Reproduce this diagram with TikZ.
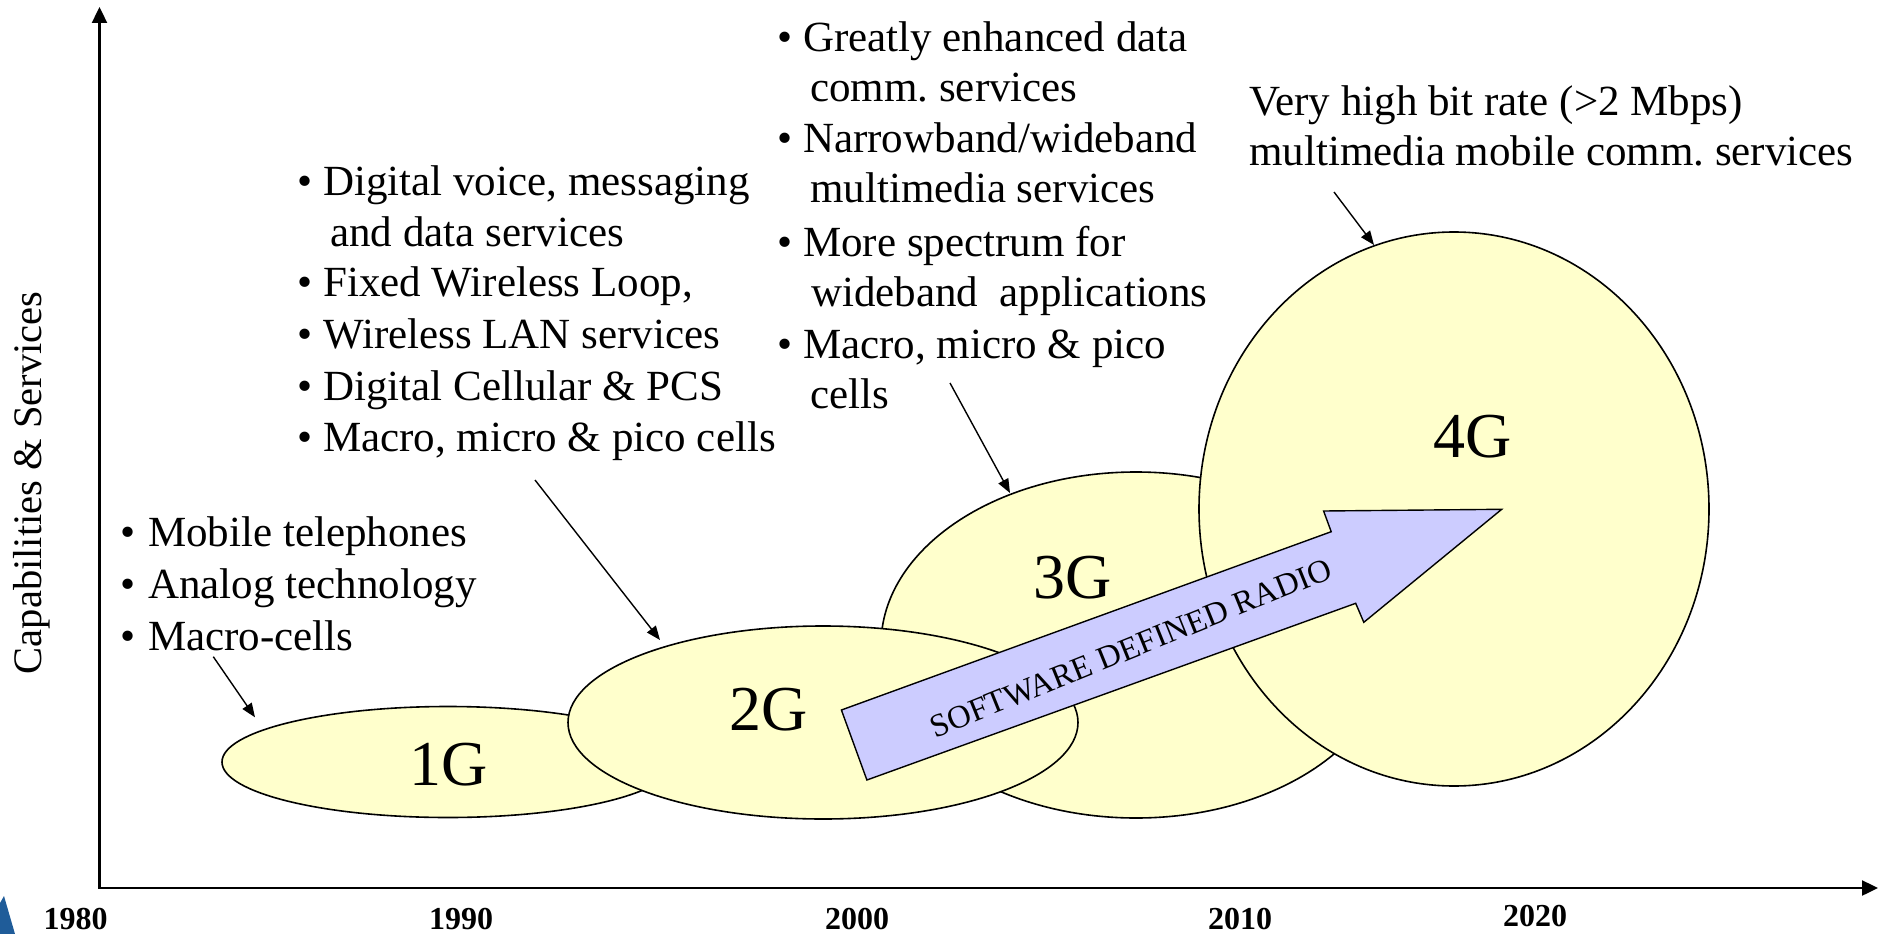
\documentclass[tikz,border=0pt]{standalone}
\usepackage{fontspec}
\setmainfont{Liberation Serif}
\usetikzlibrary{arrows.meta,shapes.geometric}
\definecolor{cellfill}{HTML}{FFFFCC}
\definecolor{sdrfill}{HTML}{CCCCFF}
\definecolor{logoblue}{HTML}{1F5C99}
\newcommand{\bul}[1]{\makebox[#1][l]{\textbullet}}
\begin{document}
\begin{tikzpicture}[x=1pt,y=-1pt,
  cell/.style={ellipse, draw=black, line width=1.6pt, fill=cellfill, inner sep=0pt, outer sep=0pt},
  bodytext/.style={anchor=base west, inner sep=0pt, font=\fontsize{43}{52}\selectfont},
  genlabel/.style={anchor=base, inner sep=0pt, font=\fontsize{64}{70}\selectfont},
  yearlabel/.style={anchor=base, inner sep=0pt, font=\fontsize{32}{36}\selectfont\bfseries},
  axis/.style={line width=2.4pt, {Triangle[length=16pt,width=15pt]}-{Triangle[length=16pt,width=15pt]}},
  pointer/.style={line width=1.4pt, -{Triangle[length=14pt,width=11pt]}},
]
\useasboundingbox (0,0) rectangle (1883,934);

% logo fragment
\fill[logoblue] (0,903) -- (4,896) -- (15,934) -- (0,934) -- cycle;

% axes
\coordinate (ytop) at (99.5,7);
\coordinate (origin) at (99.5,888);
\coordinate (xend) at (1878,888);
\draw[axis] (ytop) -- (origin) -- (xend);

% cells
\node[cell, minimum width=452pt, minimum height=111pt] (g1) at (448,762) {};
\node[cell, minimum width=510pt, minimum height=346pt] (g3) at (1136,645) {};
\node[cell, minimum width=510pt, minimum height=554pt] (g4) at (1454,509) {};
\node[cell, minimum width=510pt, minimum height=193pt] (g2) at (823,722.5) {};

\node[genlabel] (l1) at (449,785.7) {1G};
\node[genlabel] (l2) at (769,730) {2G};
\node[genlabel] (l3) at (1073,598.3) {3G};
\node[genlabel] (l4) at (1473,457) {4G};

% software defined radio arrow
\path[draw=black, line width=1.4pt, fill=sdrfill]
  (841.4,710) -- (1331.2,531.7) -- (1323.6,511) -- (1501.7,509.3)
  -- (1363.8,622.3) -- (1355.7,603.3) -- (866.9,780) -- cycle;
\node[rotate=22, inner sep=0pt, font=\fontsize{32.5}{36}\selectfont] (sdr) at (1131,648) {SOFTWARE DEFINED RADIO};

% 1G text
\node[bodytext] (t1a) at (120.4,546.7) {\bul{27.6pt}Mobile telephones};
\node[bodytext] (t1b) at (120.4,598.3) {\bul{27.6pt}Analog technology};
\node[bodytext] (t1c) at (120.4,650) {\bul{27.6pt}Macro-cells};

% 2G text
\node[bodytext] (t2a) at (297.4,195) {\bul{25.6pt}Digital voice, messaging};
\node[bodytext] (t2b) at (330,246.7) {and data services};
\node[bodytext] (t2c) at (297.4,296.7) {\bul{25.6pt}Fixed Wireless Loop,};
\node[bodytext] (t2d) at (297.4,348.3) {\bul{25.6pt}Wireless LAN services};
\node[bodytext] (t2e) at (297.4,400) {\bul{25.6pt}Digital Cellular \& PCS};
\node[bodytext] (t2f) at (297.4,451.7) {\bul{25.6pt}Macro, micro \& pico cells};

% 3G text
\node[bodytext] (t3a) at (777.4,51.7) {\bul{25.6pt}Greatly enhanced data};
\node[bodytext] (t3b) at (810,101.7) {comm.\ services};
\node[bodytext] (t3c) at (777.4,152.7) {\bul{25.6pt}Narrowband/wideband};
\node[bodytext] (t3d) at (810,202.7) {multimedia services};
\node[bodytext] (t3e) at (777.4,256.7) {\bul{25.6pt}More spectrum for};
\node[bodytext] (t3f) at (811,306.7) {wideband\ \ applications};
\node[bodytext] (t3g) at (777.4,358.3) {\bul{25.6pt}Macro, micro \& pico};
\node[bodytext] (t3h) at (810,408.3) {cells};

% 4G text
\node[bodytext] (t4a) at (1249,115) {Very high bit rate (>2 Mbps)};
\node[bodytext] (t4b) at (1249,165) {multimedia mobile comm.\ services};

% pointers
\coordinate (p1s) at (213.3,656.7); \coordinate (p1e) at (255,717.3);
\coordinate (p2s) at (535,480);     \coordinate (p2e) at (660,640);
\coordinate (p3s) at (950,383);     \coordinate (p3e) at (1010,493);
\coordinate (p4s) at (1334,192);    \coordinate (p4e) at (1374,245);
\draw[pointer] (p1s) -- (p1e);
\draw[pointer] (p2s) -- (p2e);
\draw[pointer] (p3s) -- (p3e);
\draw[pointer] (p4s) -- (p4e);

% axis labels
\node[rotate=90, anchor=base, inner sep=0pt, font=\fontsize{40.5}{46}\selectfont] (ylab) at (41,483) {Capabilities \& Services};
\node[yearlabel] (y1980) at (75.5,929) {1980};
\node[yearlabel] (y1990) at (461,929) {1990};
\node[yearlabel] (y2000) at (857,929) {2000};
\node[yearlabel] (y2010) at (1240,929) {2010};
\node[yearlabel] (y2020) at (1535,926) {2020};
\end{tikzpicture}
\end{document}
